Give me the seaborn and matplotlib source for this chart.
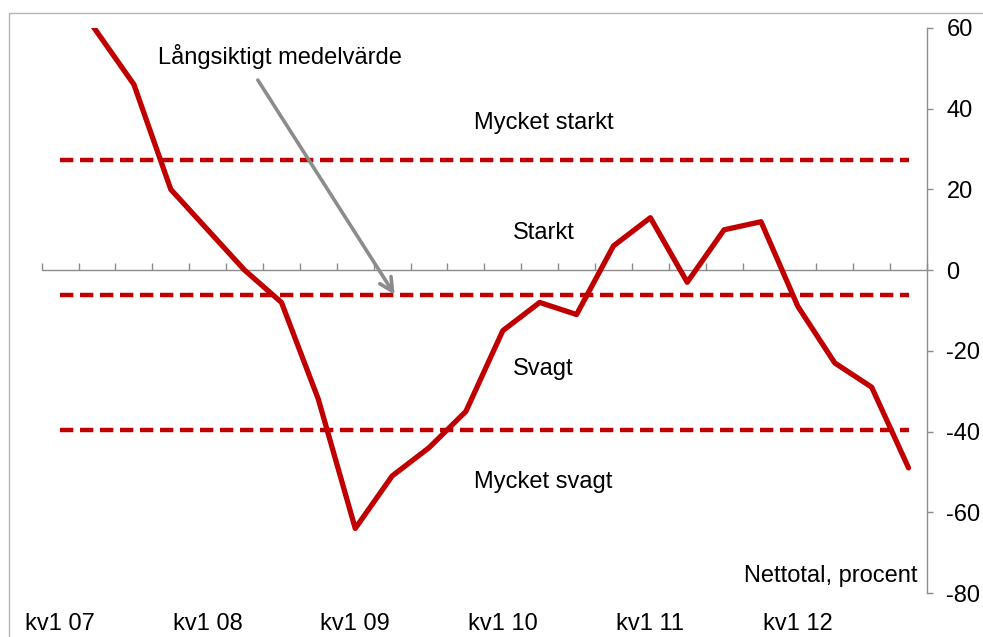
import matplotlib
matplotlib.use("Agg")
import matplotlib.pyplot as plt
from matplotlib.patches import Rectangle
import seaborn as sns
import pandas as pd
import numpy as np

# quarters kv1 07 .. kv4 12
kvartal = [f"kv{q} {y:02d}" for y in range(7, 13) for q in range(1, 5)]
nettotal = [72, 59, 46, 20, 10, 0, -8, -32, -64, -51, -44, -35,
            -15, -8, -11, 6, 13, -3, 10, 12, -9, -23, -29, -49]

# reference levels
medel = -6.1
mycket_starkt_grans = 27.4
svagt_grans = -39.6

tick_labels = ["kv1 07", "kv1 08", "kv1 09", "kv1 10", "kv1 11", "kv1 12"]
y_ticks = [-80, -60, -40, -20, 0, 20, 40, 60]

RED = "#c00000"
GRAY = "#8c8c8c"
FS = 17

sns.set_theme(style="white")
plt.rcParams['font.family'] = ['Liberation Sans', 'DejaVu Sans']
plt.rcParams['text.color'] = 'black'

df = pd.DataFrame({'kvartal': kvartal, 'pos': np.arange(len(kvartal)), 'nettotal': nettotal})
levels = pd.DataFrame({
    'pos': np.tile(df['pos'], 3),
    'niva': [mycket_starkt_grans] * len(df) + [medel] * len(df) + [svagt_grans] * len(df),
    'namn': ['ms'] * len(df) + ['medel'] * len(df) + ['sv'] * len(df),
})

fig = plt.figure(figsize=(9.83, 6.37), dpi=100)
ax = fig.add_axes([41.7 / 983, 1 - 593 / 637, (927 - 41.7) / 983, (593 - 28) / 637])

# zero line
ax.axhline(0, color=GRAY, lw=1.0, zorder=1)

# dashed thresholds
for name, grp in levels.groupby('namn'):
    sns.lineplot(data=grp, x='pos', y='niva', ax=ax, color=RED, lw=3.2,
                 linestyle=(0, (3.0, 1.5)), legend=False, zorder=2)

sns.lineplot(data=df, x='pos', y='nettotal', ax=ax, color=RED, lw=3.8,
             legend=False, zorder=3)

ax.set_xlim(-0.5, len(kvartal) - 0.5)
ax.set_ylim(-80, 60)
ax.set_xlabel("")
ax.set_ylabel("")

# right-hand y axis
ax.yaxis.tick_right()
ax.set_yticks(y_ticks)
ax.set_yticklabels([str(v) for v in y_ticks], fontsize=FS)
ax.tick_params(axis='y', direction='out', length=4.5, width=1.0, color=GRAY,
               labelcolor='black', pad=9.5)

for s in ['top', 'left', 'bottom']:
    ax.spines[s].set_visible(False)
ax.spines['right'].set_color(GRAY)
ax.spines['right'].set_linewidth(1.0)

# category labels along the bottom
label_pos = [kvartal.index(t) for t in tick_labels]
ax.set_xticks(label_pos)
ax.set_xticklabels(tick_labels, fontsize=FS, color='black')
ax.tick_params(axis='x', length=0, pad=14.5)

# category boundary ticks on the zero line
zero = ax.secondary_xaxis(80 / 140)
zero.set_xticks(np.arange(-0.5, len(kvartal), 1.0))
zero.set_xticklabels([])
zero.tick_params(axis='x', direction='out', length=5, width=1.0, color=GRAY)
for s in ['top', 'left', 'right', 'bottom']:
    zero.spines[s].set_visible(False)

# zone labels
ax.text(13.1, 36.5, "Mycket starkt", ha='center', va='center', fontsize=FS)
ax.text(13.1, 9.2, "Starkt", ha='center', va='center', fontsize=FS)
ax.text(13.1, -24.6, "Svagt", ha='center', va='center', fontsize=FS)
ax.text(13.1, -52.4, "Mycket svagt", ha='center', va='center', fontsize=FS)
ax.text(5.96, 52.9, "Långsiktigt medelvärde", ha='center', va='center', fontsize=FS)
ax.text(23.25, -75.7, "Nettotal, procent", ha='right', va='center', fontsize=FS)

ax.annotate("", xy=(9.07, medel), xytext=(5.36, 47.1),
            arrowprops=dict(arrowstyle='->,head_length=0.8,head_width=0.4',
                            color=GRAY, lw=2.6, shrinkA=0, shrinkB=0))

# chart border
fig.add_artist(Rectangle((9 / 983, -0.1), 1.2, 1 - 13 / 637 + 0.1, transform=fig.transFigure,
                         fill=False, edgecolor='#b3b3b3', lw=1.0))

fig.savefig("out.png", dpi=100)
